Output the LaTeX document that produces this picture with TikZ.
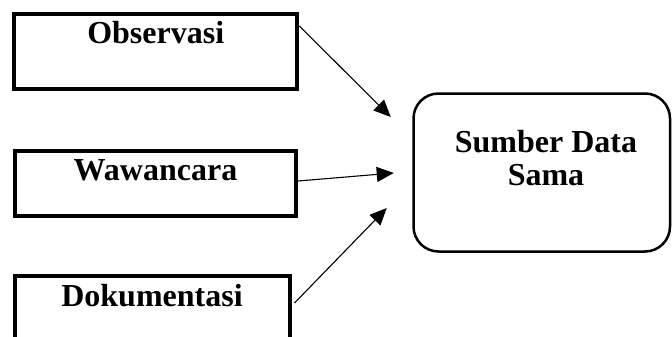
\documentclass[tikz,border=0pt]{standalone}
\usepackage{fontspec}
\setmainfont{Liberation Serif}
\usetikzlibrary{arrows.meta}
\begin{document}
\begin{tikzpicture}[x=1pt,y=-1pt,
  srcbox/.style={draw, rectangle, line width=4pt, inner sep=0pt},
  resultbox/.style={draw, rectangle, rounded corners=25pt, line width=2.5pt, inner sep=0pt},
  boxtext/.style={font=\bfseries\fontsize{32}{33}\selectfont, inner sep=0pt},
  flow/.style={line width=1.1pt, -{Triangle[length=17pt,width=15pt]}}]
\fill[white] (0,0) rectangle (672,337);
\useasboundingbox (0,0) rectangle (672,337);

% source boxes
\node[srcbox, minimum width=283pt, minimum height=75pt] (obs) at (155.7,51.7) {};
\node[srcbox, minimum width=281pt, minimum height=65pt] (waw) at (155.5,183) {};
\node[srcbox, minimum width=275pt, minimum height=85pt] (dok) at (152,318) {};

\node[boxtext, anchor=base] (tobs) at ([yshift=-31pt]obs.north) {Observasi};
\node[boxtext, anchor=base] (twaw) at ([yshift=-31.5pt]waw.north) {Wawancara};
\node[boxtext, anchor=base] (tdok) at ([yshift=-32.5pt]dok.north) {Dokumentasi};

% result box
\node[resultbox, minimum width=256.5pt, minimum height=158pt] (sum) at (541.75,172.5) {};
\node[boxtext, align=center] (tsum) at (546,157.6) {Sumber Data\\Sama};

% connectors
\draw[flow] ([yshift=-13.7pt]obs.north east) -- ([xshift=-21.5pt,yshift=55.5pt]sum.west);
\draw[flow] ([yshift=-32.5pt]waw.north east) -- ([xshift=-18.5pt,yshift=-0.5pt]sum.west);
\draw[flow] ([xshift=3pt,yshift=-29.5pt]dok.north east) -- ([xshift=-25.5pt,yshift=-35.5pt]sum.west);
\end{tikzpicture}
\end{document}
